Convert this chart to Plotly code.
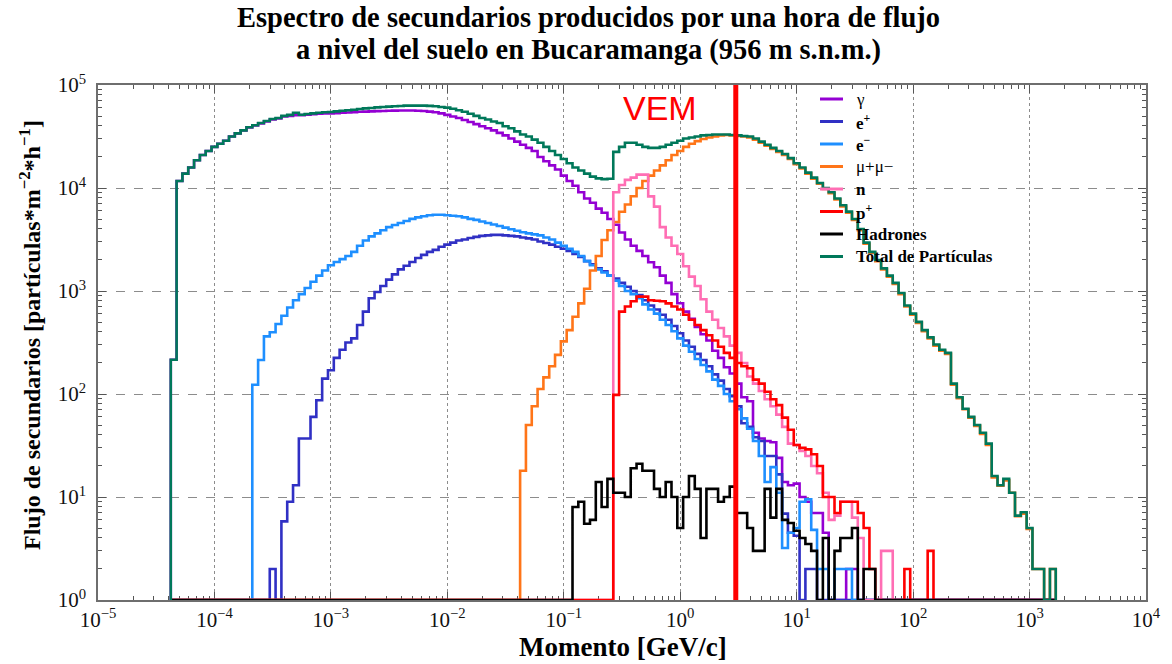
import numpy as np
import plotly.graph_objects as go

# Momentum binning in log10(p / GeV/c): 20 logarithmic bins per decade.
BIN_STEP = 0.05
GRID_FIRST_CENTRE = -4.35

# Flux per bin [particles m^-2 h^-1]. Each list starts at the bin centre given by *_first.
total_first = -4.35
total_flux = [
    215, 11700, 13800, 15800, 18600, 20900, 22900, 25100, 26900, 28800,
    31600, 33900, 36300, 38900, 40700, 42700, 44700, 46800, 47900, 50100,
    51300, 53700, 51500, 52300, 53000, 53800, 54300, 54700, 55400, 56200,
    56800, 57500, 58500, 59300, 59800, 60700, 61100, 61700, 62100, 62500,
    63000, 63100, 63100, 63000, 62700, 62100, 61200, 60300, 58900, 56900,
    55000, 52500, 50100, 47900, 46200, 44200, 42700, 39800, 38000, 35500,
    33100, 31600, 29500, 27500, 25100, 22900, 20900, 19100, 17400, 15800,
    14800, 13800, 12900, 12400, 12200, 12300, 22400, 25100, 27500, 27500,
    26300, 25100, 24500, 24500, 25100, 26300, 27500, 28800, 30200, 30900,
    31600, 32400, 32700, 33100, 33100, 33100, 32700, 32400, 32000, 31600,
    30200, 28200, 26300, 24500, 22900, 21400, 19500, 17400, 15800, 14100,
    12600, 11200, 10000, 9100, 7900, 6800, 5900, 5000, 4000, 2950,
    2400, 2000, 1660, 1410, 1200, 955, 724, 603, 501, 417,
    355, 302, 269, 251, 126, 93, 72, 60, 50, 42,
    33, 16, 13, 15, 11, 6.6, 7.1, 5, 2, 2,
    0, 2,
]

gamma_first = -4.35
gamma_flux = [
    215, 11700, 13800, 15800, 18600, 20900, 22900, 25100, 26900, 28800,
    31600, 33900, 36300, 38800, 40500, 42400, 44300, 46300, 47300, 49400,
    50200, 50800, 51000, 51500, 52000, 52500, 52800, 53000, 53300, 53700,
    54100, 54500, 54900, 55200, 55500, 55800, 56000, 56200, 56400, 56500,
    56600, 56500, 56300, 56000, 55200, 54300, 53000, 51300, 49500, 47900,
    45700, 43700, 41700, 39800, 38000, 36300, 34300, 32400, 30200, 28200,
    26300, 24500, 22900, 20000, 18200, 16600, 15100, 13200, 11700, 10500,
    9100, 7900, 7200, 6300, 5750, 5000, 4400, 3700, 3160, 2750,
    2450, 2190, 1900, 1700, 1410, 1200, 933, 760, 630, 537,
    447, 380, 331, 263, 224, 182, 158, 126, 93, 85,
    42, 37, 35, 34, 24, 14, 13, 13.5, 10, 9,
    7, 7, 4.5, 0, 0, 0, 2, 2,
]

eplus_first = -3.50
eplus_flux = [
    2, 0, 5.8, 9, 13, 37, 37, 60, 87, 141,
    170, 224, 269, 316, 347, 468, 631, 851, 977, 1120,
    1290, 1450, 1620, 1760, 1910, 2090, 2240, 2400, 2510, 2690,
    2820, 2950, 3090, 3160, 3270, 3350, 3430, 3470, 3510, 3510,
    3470, 3430, 3390, 3310, 3240, 3160, 3020, 2920, 2820, 2690,
    2570, 2450, 2290, 2140, 1950, 1820, 1660, 1550, 1410, 1320,
    1200, 1100, 1000, 912, 813, 724, 661, 589, 525, 457,
    389, 331, 288, 245, 214, 186, 155, 135, 112, 95,
    76, 52, 48, 38, 35, 25, 25, 16.6, 6.9, 4.5,
    4.2, 0, 2, 2,
]

eminus_first = -3.65
eminus_flux = [
    123, 214, 363, 398, 479, 575, 692, 813, 933, 1070,
    1230, 1410, 1580, 1780, 1910, 2040, 2190, 2400, 2750, 3090,
    3390, 3630, 3890, 4170, 4370, 4570, 4790, 5010, 5190, 5310,
    5430, 5500, 5500, 5430, 5370, 5310, 5190, 5010, 4900, 4730,
    4570, 4420, 4270, 4120, 3980, 3850, 3720, 3630, 3550, 3470,
    3310, 3160, 2950, 2750, 2570, 2400, 2190, 1950, 1780, 1620,
    1510, 1410, 1260, 1120, 1000, 933, 851, 741, 661, 603,
    525, 468, 407, 347, 295, 257, 219, 191, 166, 138,
    120, 100, 85, 71, 58, 46, 35, 25, 14, 19.5,
    11, 3.2, 4.5, 5, 9, 9.5, 4.8, 2, 2, 0,
    2, 2, 2,
]

muon_first = -1.35
muon_flux = [
    18, 50, 76, 112, 145, 186, 240, 324, 417, 562,
    759, 1050, 1580, 2190, 3130, 3890, 4680, 5890, 6920, 8320,
    10000, 11700, 13200, 14800, 16600, 18600, 20900, 22900, 25100, 26900,
    28500, 29900, 30900, 31600, 32400, 32700, 32400, 32000, 31600, 30900,
    29500, 27500, 25700, 24000, 22400, 20900, 19100, 17000, 15500, 13800,
    12300, 11000, 9800, 8900, 7760, 6610, 5750, 4900, 3890, 2880,
    2340, 1950, 1620, 1380, 1170, 933, 708, 589, 490, 407,
    347, 295, 263, 245, 123, 91, 71, 59, 49, 41,
    32, 15.5, 12.9, 14.5, 11, 6.5, 6.9, 4.9, 2, 2,
    0, 2,
]

neutron_first = -0.55
neutron_flux = [
    9100, 10700, 12000, 12600, 13500, 13500, 8300, 6600, 4170, 3310,
    2750, 2290, 1740, 1380, 1120, 832, 631, 525, 437, 363,
    295, 251, 200, 148, 126, 107, 89, 76, 63, 48,
    33, 32, 28, 25, 20, 17, 11, 6, 6.6, 9,
    9, 6.3, 4, 0, 0, 0, 3, 3,
]

proton_first = -0.55
proton_flux = [
    98, 631, 708, 794, 881, 881, 813, 803, 794, 759,
    708, 661, 589, 525, 468, 417, 372, 331, 288, 251,
    224, 200, 186, 178, 138, 126, 105, 89, 78, 59,
    45, 32, 30, 29, 26, 20, 10, 10, 7, 9,
    9, 9, 7, 5, 2, 0, 0, 0, 0, 0,
    2, 0, 0, 0, 3,
]

hadron_first = -0.90
hadron_flux = [
    8, 9, 5.5, 6, 14, 8, 15, 11, 11, 10,
    19, 21, 18, 18, 12, 10, 14, 10, 5, 10,
    16, 12, 4, 12, 12, 9, 10, 12.6, 7, 7,
    5, 3, 3, 12, 6.3, 12, 6, 5.6, 4.7, 4,
    3.5, 3, 0, 4, 0, 3, 4, 4, 5, 0,
    2, 2,
]

vem_momentum = 3.0  # GeV/c

series_labels = ["γ", "<b>e<sup>+</sup></b>", "<b>e<sup>−</sup></b>", "μ+μ−",
                 "<b>n</b>", "<b>p<sup>+</sup></b>", "<b>Hadrones</b>",
                 "<b>Total de Partículas</b>"]
series_colors = ["#9400D3", "#3030C4", "#1E8FFF", "#FF7518",
                 "#FF6EB4", "#FF0000", "#000000", "#00785A"]
series_data = [
    (gamma_first, gamma_flux), (eplus_first, eplus_flux),
    (eminus_first, eminus_flux), (muon_first, muon_flux),
    (neutron_first, neutron_flux), (proton_first, proton_flux),
    (hadron_first, hadron_flux), (total_first, total_flux),
]

x_tick_exp = list(range(-5, 5))
y_tick_exp = list(range(0, 6))

# ---- histogram helpers ----
N_BINS = len(total_flux)
edges = 10 ** (GRID_FIRST_CENTRE - BIN_STEP / 2 + BIN_STEP * np.arange(N_BINS + 1))
FLOOR = 1.0  # empty bins sit on the lower edge of the log axis


def full_counts(first_centre, values):
    counts = np.zeros(N_BINS)
    start = int(round((first_centre - GRID_FIRST_CENTRE) / BIN_STEP))
    counts[start:start + len(values)] = values
    return counts


def step_xy(counts):
    y = np.maximum(counts, FLOOR)
    xs = np.concatenate([[edges[0]], edges[:-1], [edges[-1], edges[-1]]])
    ys = np.concatenate([[FLOOR], y, [y[-1], FLOOR]])
    return xs, ys


fig = go.Figure()
for (first, flux), color in zip(series_data, series_colors):
    xs, ys = step_xy(full_counts(first, flux))
    fig.add_trace(go.Scatter(x=xs, y=ys, mode="lines", line_shape="hv",
                             line=dict(color=color, width=2.6),
                             hoverinfo="skip", showlegend=False))

# vertical-equivalent-muon marker
fig.add_trace(go.Scatter(x=[vem_momentum, vem_momentum], y=[10 ** y_tick_exp[0], 10 ** y_tick_exp[-1]],
                         mode="lines", line=dict(color="#FF0000", width=5),
                         hoverinfo="skip", showlegend=False))

# ---- layout geometry (pixels) ----
W, H = 1172, 664
L, R, T, B = 98, 26, 85, 64
PW, PH = W - L - R, H - T - B


def px(xp):
    return (xp - L) / PW


def py(yp):
    return (H - B - yp) / PH


serif = "Liberation Serif"
tick_font = dict(family=serif, size=21, color="#111")


def sup_label(e):
    return "10<sup>" + (str(e) if e >= 0 else "−" + str(-e)) + "</sup>"


common_axis = dict(
    type="log", showline=True, linecolor="#6E6E6E", linewidth=1.5, mirror="allticks",
    ticks="inside", ticklen=8, tickwidth=1, tickcolor="#555",
    showgrid=True, gridcolor="#8C8C8C", gridwidth=1, zeroline=False,
    tickfont=tick_font, layer="below traces",
)

fig.update_xaxes(
    range=[x_tick_exp[0], x_tick_exp[-1]],
    tickmode="array", tickvals=[10.0 ** e for e in x_tick_exp],
    ticktext=[sup_label(e) for e in x_tick_exp], griddash="dot",
    minor=dict(tickmode="array",
               tickvals=[m * 10.0 ** e for e in x_tick_exp[:-1] for m in range(2, 10)],
               ticks="inside", ticklen=4, tickcolor="#555", showgrid=False),
    **common_axis,
)
fig.update_yaxes(
    range=[y_tick_exp[0], y_tick_exp[-1]],
    tickmode="array", tickvals=[10.0 ** e for e in y_tick_exp],
    ticktext=[sup_label(e) for e in y_tick_exp], griddash="dash",
    ticklabelstandoff=6,
    minor=dict(tickmode="array",
               tickvals=[m * 10.0 ** e for e in y_tick_exp[:-1] for m in range(2, 10)],
               ticks="inside", ticklen=4, tickcolor="#555", showgrid=False),
    **common_axis,
)

annotations = [
    dict(text="<b>Espectro de secundarios producidos por una hora de flujo</b>",
         x=px(588), y=py(17), font=dict(family=serif, size=28.5, color="#000")),
    dict(text="<b>a nivel del suelo en Bucaramanga (956 m s.n.m.)</b>",
         x=px(588), y=py(50), font=dict(family=serif, size=28.5, color="#000")),
    dict(text="<b>Momento [GeV/c]</b>", x=px(623), y=py(647),
         font=dict(family=serif, size=27, color="#000")),
    dict(text="<b>Flujo de secundarios [partículas*m<sup>−2</sup>*h<sup>−1</sup>]</b>",
         x=px(30), y=py(335), textangle=-90,
         font=dict(family=serif, size=24, color="#000")),
    dict(text="VEM", x=px(660), y=py(108),
         font=dict(family="Liberation Sans", size=34, color="#FF0000")),
]

# legend drawn as line samples + labels inside the plot, top right
LEG_LINE_X0, LEG_LINE_X1, LEG_TEXT_X = 820, 843, 855
LEG_TOP, LEG_STEP = 99.0, 22.5
shapes = []
for k, (label, color) in enumerate(zip(series_labels, series_colors)):
    yk = LEG_TOP + k * LEG_STEP
    shapes.append(dict(type="line", xref="paper", yref="paper",
                       x0=px(LEG_LINE_X0), x1=px(LEG_LINE_X1), y0=py(yk), y1=py(yk),
                       line=dict(color=color, width=3)))
    annotations.append(dict(text=label, x=px(LEG_TEXT_X), y=py(yk), xanchor="left",
                            borderpad=0,
                            font=dict(family=serif, size=17, color="#000")))

for a in annotations:
    a.setdefault("xref", "paper")
    a.setdefault("yref", "paper")
    a.setdefault("showarrow", False)
    a.setdefault("xanchor", "center")
    a.setdefault("yanchor", "middle")

fig.update_layout(
    width=W, height=H,
    margin=dict(l=L, r=R, t=T, b=B, autoexpand=False),
    paper_bgcolor="white", plot_bgcolor="white",
    showlegend=False,
    annotations=annotations, shapes=shapes,
)

fig.write_html("out.html")
